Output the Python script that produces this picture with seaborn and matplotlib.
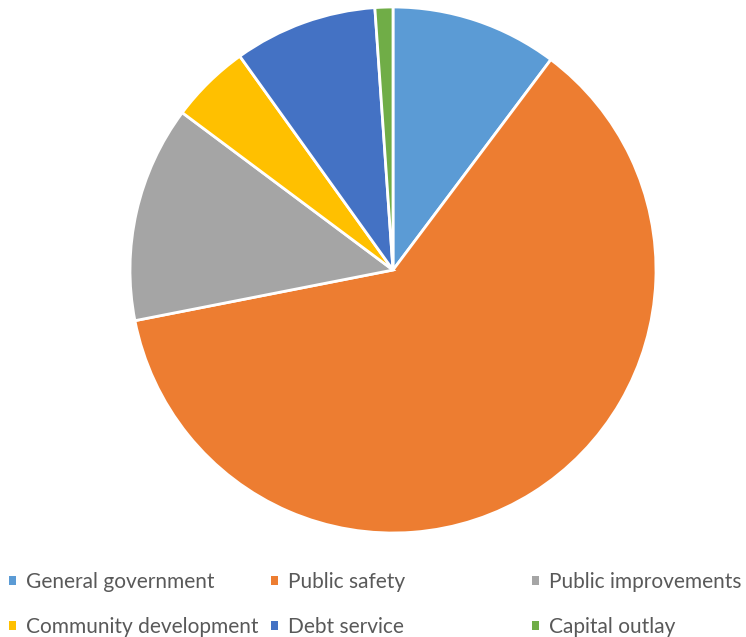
import matplotlib
matplotlib.use("Agg")
import matplotlib.pyplot as plt
import seaborn as sns
from matplotlib.patches import Patch

sns.set_theme(style="white")
plt.rcParams['font.family'] = ['Lato', 'DejaVu Sans']

categories = ["General government", "Public safety", "Public improvements",
              "Community development", "Debt service", "Capital outlay"]
values = [10.25, 61.7, 13.3, 4.9, 8.8, 1.1]
colors = ["#5B9BD5", "#ED7D31", "#A5A5A5", "#FFC000", "#4472C4", "#70AD47"]

W, H = 746, 637
fig = plt.figure(figsize=(W / 100, H / 100), dpi=100)
cx, cy, r = 393, 270, 263
ax = fig.add_axes([(cx - r) / W, 1 - (cy + r) / H, 2 * r / W, 2 * r / H])
ax.pie(values, colors=colors, startangle=90, counterclock=False,
       wedgeprops=dict(edgecolor="white", linewidth=2))
ax.set_xlim(-1, 1)
ax.set_ylim(-1, 1)
ax.set_aspect("equal")
ax.axis("off")

cols = [[0, 3], [1, 4], [2, 5]]
xs = [9, 271, 532]
for xi, idx in zip(xs, cols):
    handles = [Patch(facecolor=colors[i], edgecolor="none") for i in idx]
    labels = [categories[i] for i in idx]
    fig.legend(handles, labels, loc="upper left",
               bbox_to_anchor=(xi / W, 1 - 572 / H), frameon=False,
               fontsize=15, labelcolor="#595959", handlelength=0.35,
               handleheight=0.35, handletextpad=0.45, labelspacing=1.2,
               borderpad=0, borderaxespad=0)

fig.savefig("out.png", dpi=100)
